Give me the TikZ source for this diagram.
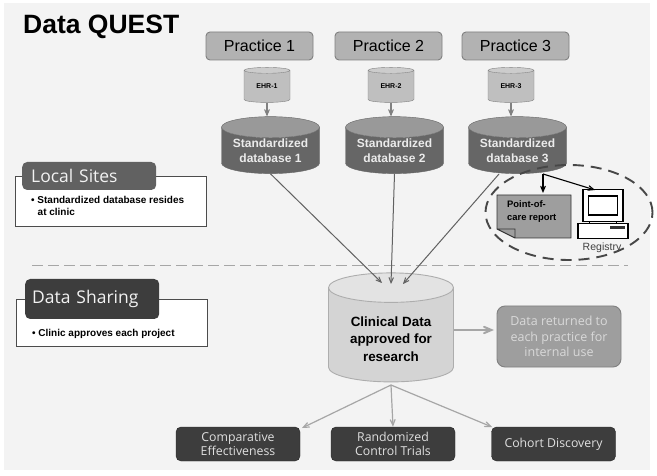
\documentclass[tikz,border=0pt]{standalone}
\usepackage{fontspec}
\setmainfont{Liberation Sans}
\newfontfamily\softfont{Open Sans}
\usetikzlibrary{arrows,shapes.geometric}
\definecolor{slidebg}{HTML}{F3F3F3}
\tikzstyle{practice}=[draw=black!50, line width=0.9, fill=black!30, rounded corners=4, minimum width=107, minimum height=28, font=\fontsize{16}{18}\selectfont]
\tikzstyle{can}=[draw, cylinder, shape border rotate=90, cylinder uses custom fill, inner sep=0, align=center]
\tikzstyle{ehr}=[can, draw=black!50, cylinder body fill=black!25, cylinder end fill=black!20, minimum width=46, minimum height=35, aspect=0.28, font=\bfseries\fontsize{7}{8}\selectfont]
\tikzstyle{db}=[can, draw=black!60, cylinder body fill=black!60, cylinder end fill=black!40, text=white!92!black, minimum width=98, minimum height=57, aspect=0.28, font=\bfseries\fontsize{12}{15}\selectfont]
\tikzstyle{infobox}=[draw=black!70, line width=0.9, fill=white, minimum width=191, anchor=north west]
\tikzstyle{tab}=[rounded corners=5, text=white!95!black, anchor=west, inner xsep=9, text width=116, align=left, font=\softfont\fontsize{17.5}{20}\selectfont]
\tikzstyle{bullets}=[align=left, inner sep=0, font=\bfseries\fontsize{10}{11.5}\selectfont]
\tikzstyle{study}=[fill=black!76, draw=black!85, rounded corners=5, minimum width=124, minimum height=34, align=center, text=white!88!black, font=\softfont\fontsize{12.3}{14.5}\selectfont]
\begin{document}
\begin{tikzpicture}[x=1pt,y=-1pt,>=angle 45,align=center]
        \useasboundingbox (0,0) rectangle (657,476);
        \fill[white] (0,0) rectangle (657,476);
        \fill[slidebg] (4,3) rectangle (650,470);

        \node (title) [anchor=west, inner sep=0, font=\bfseries\fontsize{26.5}{28}\selectfont] at (23,27) {Data QUEST};

        % practices and their local stores
        \node [practice] (p1) at (259.5,46) {Practice 1};
        \node [practice] (p2) [right of=p1, node distance=129] {Practice 2};
        \node [practice] (p3) [right of=p2, node distance=127] {Practice 3};
        \node [ehr] (e1) at (267,86.5) {EHR-1};
        \node [ehr] (e2) [right of=e1, node distance=124] {EHR-2};
        \node [ehr] (e3) [right of=e2, node distance=120] {EHR-3};
        \node [db] (d1) at (270.5,150.5) {Standardized\\database 1};
        \node [db] (d2) [right of=d1, node distance=124] {Standardized\\database 2};
        \node [db] (d3) [right of=d2, node distance=123] {Standardized\\database 3};

        % left side panels
        \node [infobox, minimum height=50] (local) at (14.5,176) {};
        \node [tab, fill=black!62, minimum height=28] (localt) at (22,176) {Local Sites};
        \node [bullets, anchor=north west] (localb) at (31,196.5) {\textbullet\ Standardized database resides\\\hspace{6.5pt}at clinic};
        \node [infobox, minimum height=47] (share) at (15.5,299) {};
        \node [tab, fill=black!76, minimum height=40, inner xsep=7, text width=120] (sharet) at (25,299) {Data Sharing};
        \node [bullets, anchor=west] (shareb) at (32,333.5) {\textbullet\ Clinic approves each project};

        \draw[dashed, dash pattern=on 11 off 5, black!35, line width=1] (32,266) -- (628,266);

        % shared data and what comes out of it
        \node [can, draw=black!32, line width=0.9, cylinder body fill=black!17, cylinder end fill=black!11, minimum width=125, minimum height=109, aspect=0.36, font=\bfseries\fontsize{13.4}{17.5}\selectfont] (data) at (391,335) {\rule{0pt}{17.5pt}Clinical Data\\approved for\\research};
        \node [fill=black!38, draw=black!50, line width=0.9, rounded corners=8, minimum width=124, minimum height=61, text=white!85!black, font=\softfont\fontsize{12.5}{15.5}\selectfont] (back) at (559,336.5) {Data returned to\\each practice for\\internal use};
        \node [study] (c1) at (238,444) {Comparative\\Effectiveness};
        \node [study] (c2) [right of=c1, node distance=155] {Randomized\\Control Trials};
        \node [study] (c3) [right of=c2, node distance=160.5] {Cohort Discovery};

        % report and registry at the third practice
        \fill[black!38] (497,195) -- (571,195) -- (571,238) -- (515,238) -- (497,229) -- cycle;
        \draw[black!80, line width=0.9] (515,238) -- (497,229) -- (497,195) -- (571,195) -- (571,238) -- (515,238) -- (515,229) -- (497,229);
        \node [anchor=west, align=left, inner sep=0, font=\bfseries\fontsize{9.4}{13}\selectfont] (report) at (507,212) {Point-of-\\care report};
        \node [draw=black, line width=1.1, fill=white, minimum width=40, minimum height=32] (mon) at (603,205.5) {};
        \node [draw=black, line width=1.1, fill=white, minimum width=29, minimum height=19] (screen) at (mon.center) {};
        \node [draw=black, line width=1.1, fill=white, minimum width=50, minimum height=15] (base) at (603,231) {};
        \draw[line width=0.9] (589,222) -- (589,223.5) (616,222) -- (616,223.5);
        \fill[black!80] (610,226) rectangle (625,229);
        \node [font=\fontsize{10.5}{12}\selectfont, text=black!75] (reg) at (602,247.5) {Registry};
        \node [draw=black!72, ellipse, dashed, dash pattern=on 11 off 7, line width=1.9, minimum width=167, minimum height=95] (ring) at (569,212.5) {};

        % free ends of the connectors
        \coordinate (in1) at (382,283);
        \coordinate (in2) at (391,284);
        \coordinate (in3) at (403,284);
        \coordinate (out3) at (499,174);
        \coordinate (tap) at (543,174);
        \coordinate (tapa) at (543,193);
        \coordinate (tapb) at (595,190);
        \coordinate (feed) at (454,330);
        \coordinate (feedin) at (494,330);
        \coordinate (dout) at (391,385);
        \coordinate (c1in) at (302,428);
        \coordinate (c3in) at (492,427);

        \path[->, black!50, line width=1.1]
        (e1.south) edge (e1.south |- d1.north)
        (e2.south) edge (e2.south |- d2.north)
        (e3.south) edge (e3.south |- d3.north);
        \path[->, black!62, line width=1]
        (d1.south) edge (in1)
        (d2.south) edge (in2)
        (out3) edge (in3);
        \path[->, black, line width=1.1]
        (tap) edge (tapa)
        (tap) edge (tapb);
        \draw[->, black!35, line width=2] (feed) -- (feedin);
        \path[->, black!35, line width=1.2]
        (dout) edge (c1in)
        (dout) edge (c2.north)
        (dout) edge (c3in);
    \end{tikzpicture}
\end{document}
